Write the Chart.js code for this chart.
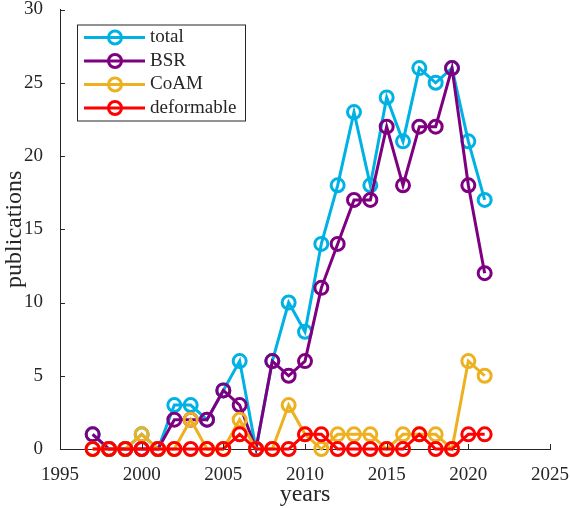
<html>
<head>
  <script src="https://cdn.jsdelivr.net/npm/chart.js@4/dist/chart.umd.min.js"></script>
  <style>
    body { margin: 0; background: #fff; }
  </style>
  <script>
  // publications per year
  const years = [1997, 1998, 1999, 2000, 2001, 2002, 2003, 2004, 2005, 2006, 2007, 2008, 2009,
                 2010, 2011, 2012, 2013, 2014, 2015, 2016, 2017, 2018, 2019, 2020, 2021];
  const total      = [1, 0, 0, 1, 0, 3, 3, 2, 4, 6, 0, 6, 10, 8, 14, 18, 23, 18, 24, 21, 26, 25, 26, 21, 17];
  const bsr        = [1, 0, 0, 0, 0, 2, 2, 2, 4, 3, 0, 6, 5, 6, 11, 14, 17, 17, 22, 18, 22, 22, 26, 18, 12];
  const coam       = [0, 0, 0, 1, 0, 0, 2, 0, 0, 2, 0, 0, 3, 1, 0, 1, 1, 1, 0, 1, 1, 1, 0, 6, 5];
  const deformable = [0, 0, 0, 0, 0, 0, 0, 0, 0, 1, 0, 0, 0, 1, 1, 0, 0, 0, 0, 0, 1, 0, 0, 1, 1];
  const xTicks = [1995, 2000, 2005, 2010, 2015, 2020, 2025];
  const yTicks = [0, 5, 10, 15, 20, 25, 30];

  const txt = '#262626';
  const serif = '"Liberation Serif", "DejaVu Serif", serif';

  let series = (label, vals, color, order) => ({
    label: label,
    data: vals.map((v, i) => ({ x: years[i], y: v })),
    borderColor: color,
    borderWidth: 3,
    pointRadius: 6.5,
    pointBorderWidth: 3,
    pointBackgroundColor: 'rgba(0,0,0,0)',
    pointBorderColor: color,
    tension: 0,
    fill: false,
    clip: false,
    order: order
  });

  // MATLAB-style legend box in the upper left corner of the axes
  const boxLegend = {
    id: 'boxLegend',
    afterDraw(chart) {
      const ctx = chart.ctx, a = chart.chartArea;
      const x0 = a.left + 17, y0 = a.top + 15;
      ctx.save();
      ctx.fillStyle = '#fff';
      ctx.fillRect(x0, y0, 168, 96);
      ctx.strokeStyle = txt;
      ctx.lineWidth = 1;
      ctx.strokeRect(x0 + 0.5, y0 + 0.5, 168, 96);
      ctx.font = '19px ' + serif;
      ctx.textBaseline = 'middle';
      chart.data.datasets.forEach((ds, i) => {
        const y = y0 + 13 + i * 23.5;
        ctx.strokeStyle = ds.borderColor;
        ctx.lineWidth = 3;
        ctx.beginPath();
        ctx.moveTo(x0 + 7, y);
        ctx.lineTo(x0 + 68, y);
        ctx.stroke();
        ctx.beginPath();
        ctx.arc(x0 + 38, y, 6.5, 0, Math.PI * 2);
        ctx.stroke();
        ctx.fillStyle = txt;
        ctx.fillText(ds.label, x0 + 73, y);
      });
      ctx.restore();
    }
  };

  // inward tick marks
  const innerTicks = {
    id: 'innerTicks',
    afterDatasetsDraw(chart) {
      const ctx = chart.ctx, a = chart.chartArea;
      const xs = chart.scales.x, ys = chart.scales.y;
      ctx.save();
      ctx.strokeStyle = txt;
      ctx.lineWidth = 1;
      ctx.beginPath();
      xTicks.forEach(t => {
        const px = Math.round(xs.getPixelForValue(t)) + 0.5;
        ctx.moveTo(px, a.bottom);
        ctx.lineTo(px, a.bottom - 5);
      });
      yTicks.forEach(t => {
        const py = Math.round(ys.getPixelForValue(t)) + 0.5;
        ctx.moveTo(a.left, py);
        ctx.lineTo(a.left + 5, py);
      });
      ctx.stroke();
      ctx.restore();
    }
  };

  window.onload = () => {
    const ctx = document.getElementById('myChart').getContext('2d');
    new Chart(ctx, {
      type: 'line',
      data: {
        datasets: [
          series('total', total, 'rgb(0,178,228)', 3),
          series('BSR', bsr, 'rgb(126,0,128)', 2),
          series('CoAM', coam, 'rgb(237,177,32)', 1),
          series('deformable', deformable, 'rgb(255,0,0)', 0)
        ]
      },
      options: {
        responsive: false,
        animation: false,
        layout: { padding: { top: 9, right: 20, left: 0, bottom: 0 } },
        plugins: { legend: { display: false }, tooltip: { enabled: false } },
        scales: {
          x: {
            type: 'linear',
            min: 1995, max: 2025,
            afterBuildTicks: s => { s.ticks = xTicks.map(v => ({ value: v })); },
            afterFit: s => { s.height = 59; s.paddingLeft = 0; s.paddingRight = 0; },
            grid: { display: false },
            border: { color: txt, width: 1 },
            ticks: { color: txt, font: { family: serif, size: 19 }, padding: 7, maxRotation: 0,
                     callback: v => String(v) },
            title: { display: true, text: 'years', color: txt,
                     font: { family: serif, size: 24, lineHeight: 1 }, padding: { top: 0, bottom: 1 } }
          },
          y: {
            min: 0, max: 30,
            afterBuildTicks: s => { s.ticks = yTicks.map(v => ({ value: v })); },
            afterFit: s => { s.width = 60; s.paddingTop = 0; s.paddingBottom = 0; },
            grid: { display: false },
            border: { color: txt, width: 1 },
            ticks: { color: txt, font: { family: serif, size: 19 }, padding: 9 },
            title: { display: true, text: 'publications', color: txt,
                     font: { family: serif, size: 24, lineHeight: 1 }, padding: { top: 3, bottom: 0 } }
          }
        }
      },
      plugins: [innerTicks, boxLegend]
    });
  };
  </script>
</head>
<body>
  <canvas id="myChart" width="570" height="508"></canvas>
</body>
</html>
